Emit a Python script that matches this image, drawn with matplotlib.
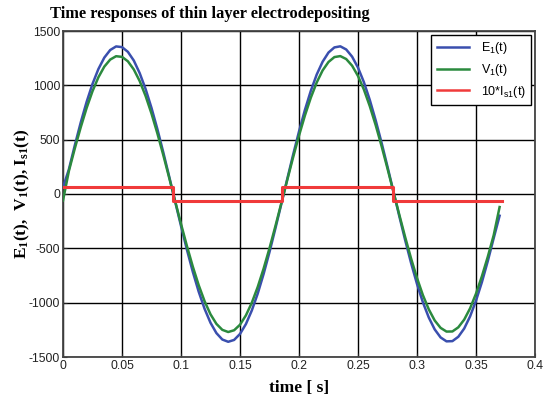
import matplotlib as mpl
import matplotlib.pyplot as plt
import numpy as np

mpl.rcParams['font.family'] = 'Liberation Sans'
mpl.rcParams['mathtext.default'] = 'regular'
mpl.rcParams['axes.unicode_minus'] = False

# values (step 0.005 s)
t = np.arange(75) * 0.005
e1 = [60, 227, 448, 657, 847, 1013, 1150, 1255, 1325, 1358,
      1352, 1308, 1228, 1112, 966, 792, 596, 383, 160, -68,
      -294, -512, -716, -899, -1057, -1185, -1280, -1339, -1360, -1343,
      -1288, -1197, -1072, -917, -736, -534, -317, -92, 136, 361,
      575, 773, 949, 1099, 1217, 1302, 1349, 1359, 1330, 1264,
      1163, 1029, 865, 677, 471, 251, 24, -204, -426, -636,
      -828, -997, -1137, -1246, -1320, -1356, -1354, -1314, -1238, -1126,
      -982, -811, -617, -406, -200]
v1 = [-60, 212, 419, 613, 791, 946, 1074, 1172, 1237, 1268,
      1262, 1221, 1146, 1039, 902, 740, 557, 358, 149, -64,
      -275, -478, -668, -839, -987, -1107, -1195, -1250, -1270, -1254,
      -1203, -1117, -1001, -856, -687, -499, -296, -86, 127, 337,
      537, 722, 886, 1026, 1137, 1215, 1260, 1269, 1242, 1181,
      1086, 961, 808, 633, 440, 234, 22, -191, -398, -594,
      -773, -931, -1062, -1164, -1232, -1266, -1265, -1227, -1156, -1052,
      -917, -757, -577, -379, -120]
i_t = [0, 0.093, 0.1856, 0.2797, 0.372]
i_lvl = [65, -65, 65, -65, -65]

fig = plt.figure(figsize=(5.49, 3.96), dpi=100)
ax = fig.add_axes([63 / 549, 1 - 357 / 396, 472 / 549, 326 / 396])

ax.plot(t, e1, color='#3a4fae', linewidth=1.8, label='E$_1$(t)', zorder=3)
ax.plot(t, v1, color='#2b8a3e', linewidth=1.8, label='V$_1$(t)', zorder=3)
ax.step(i_t, i_lvl, where='post', color='#f03a3a', linewidth=2.2,
        label='10*I$_{s1}$(t)', zorder=4)

ax.set_xlim(0, 0.4)
ax.set_ylim(-1500, 1500)
xt = np.arange(0, 0.401, 0.05)
ax.set_xticks(xt)
ax.set_xticklabels([f'{x:g}' for x in np.round(xt, 2)])
ax.set_yticks(np.arange(-1500, 1501, 500))
ax.tick_params(labelsize=8.8, length=3, direction='in', pad=2, colors='#222222')
ax.grid(True, color='black', linewidth=1.0, zorder=1)
for sp in ax.spines.values():
    sp.set_color('#444444')
    sp.set_linewidth(1.3)

leg = ax.legend(loc='upper right', fontsize=9, fancybox=False, framealpha=1,
                edgecolor='black', borderaxespad=0.3, handlelength=2.6,
                labelspacing=0.45, borderpad=0.45, handletextpad=0.9)
leg.get_frame().set_linewidth(1.0)
for ln in leg.get_lines():
    ln.set_linewidth(1.8)

fig.text(50 / 549, 1 - 14 / 396, 'Time responses of thin layer electrodepositing',
         family='Liberation Serif', weight='bold', fontsize=11.8, va='center', ha='left')
fig.text(22 / 549, 1 - 194 / 396, 'E$_1$(t),  V$_1$(t), I$_{s1}$(t)',
         family='Liberation Serif', weight='bold', fontsize=12.5, rotation=90,
         va='center', ha='center')
fig.text(299 / 549, 1 - 380 / 396, 'time [ s]', family='Liberation Serif',
         weight='bold', fontsize=12.5, va='top', ha='center')

fig.savefig('out.png', dpi=100)
